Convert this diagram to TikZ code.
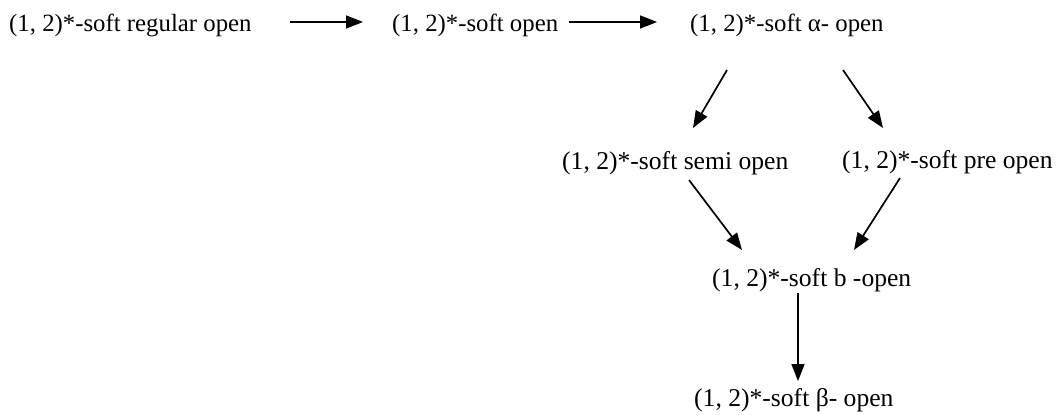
\documentclass[tikz,border=0pt]{standalone}
\usepackage{fontspec}
\setmainfont{Liberation Serif}
\usetikzlibrary{arrows.meta,calc}
\begin{document}
\begin{tikzpicture}[x=1pt,y=-1pt,
  lbl/.style={inner sep=0pt,anchor=base west,font=\fontsize{25.6}{30}\selectfont},
  toplbl/.style={lbl,font=\fontsize{24.8}{30}\selectfont},
  arr/.style={line width=1.7pt,-{Triangle[length=17pt,width=13pt]}}]
\useasboundingbox (0,0) rectangle (1058,415);
\node[toplbl] (reg)   at (9,31)    {(1, 2)*-soft regular open};
\node[toplbl] (op)    at (392,31)  {(1, 2)*-soft open};
\node[toplbl] (alpha) at (690,31)  {(1, 2)*-soft α- open};
\node[lbl] (semi)  at (562,169) {(1, 2)*-soft semi open};
\node[lbl] (pre)   at (842,168) {(1, 2)*-soft pre open};
\node[lbl] (b)     at (712,286) {(1, 2)*-soft b -open};
\node[lbl] (beta)  at (694,406) {(1, 2)*-soft β- open};
\draw[arr] ($(reg.base west)+(281,-9)$) -- ($(op.base west)+(-29,-9)$);
\draw[arr] ($(op.base west)+(177,-9)$) -- ($(alpha.base west)+(-33,-9)$);
\draw[arr] ($(alpha.base west)+(37,39)$) -- ($(semi.base west)+(131,-41)$);
\draw[arr] ($(alpha.base west)+(153,39)$) -- ($(pre.base west)+(41,-40)$);
\draw[arr] ($(semi.base west)+(127,11)$) -- ($(b.base west)+(30,-36)$);
\draw[arr] ($(pre.base west)+(58,10)$) -- ($(b.base west)+(142,-36)$);
\draw[arr] ($(b.base west)+(86,7)$) -- ($(beta.base west)+(104,-25)$);
\end{tikzpicture}
\end{document}
